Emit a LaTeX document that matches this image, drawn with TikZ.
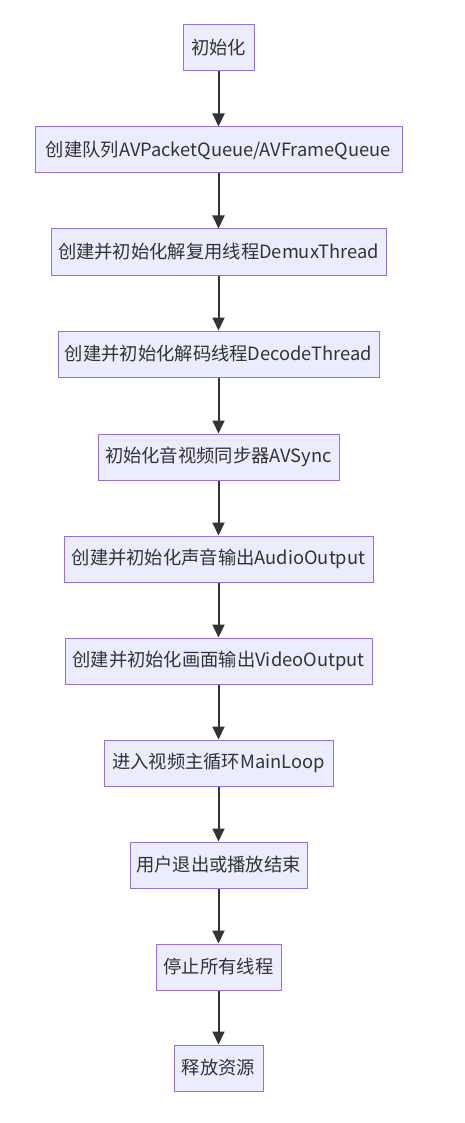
\documentclass[tikz,border=0pt]{standalone}
\usepackage{fontspec}
\setmainfont{Noto Sans CJK SC}
\usetikzlibrary{arrows.meta}
\definecolor{boxfill}{HTML}{ECECFF}
\definecolor{boxline}{HTML}{9370DB}
\definecolor{arrowc}{HTML}{333333}
\definecolor{textc}{HTML}{333333}
\begin{document}
\begin{tikzpicture}[x=1pt,y=-1pt,
  box/.style={draw=boxline,fill=boxfill,line width=1pt,minimum height=46pt,inner sep=0pt,
    text=textc,font=\fontsize{18.3}{21}\selectfont},
  flow/.style={draw=arrowc,line width=2pt,-{Triangle[length=13pt,width=12pt]}}]
\useasboundingbox (0,0) rectangle (465,1123);
\node[box,minimum width=71pt]  (n1)  at (218.5,48)   {初始化};
\node[box,minimum width=367pt] (n2)  at (218.5,150)  {创建队列AVPacketQueue/AVFrameQueue};
\node[box,minimum width=335pt] (n3)  at (218.5,252)  {创建并初始化解复用线程DemuxThread};
\node[box,minimum width=321pt] (n4)  at (218.5,354)  {创建并初始化解码线程DecodeThread};
\node[box,minimum width=241pt] (n5)  at (218.5,457)  {初始化音视频同步器AVSync};
\node[box,minimum width=309pt] (n6)  at (218.5,559)  {创建并初始化声音输出AudioOutput};
\node[box,minimum width=307pt] (n7)  at (218.5,661)  {创建并初始化画面输出VideoOutput};
\node[box,minimum width=229pt] (n8)  at (218.5,763)  {进入视频主循环MainLoop};
\node[box,minimum width=177pt] (n9)  at (218.5,865)  {用户退出或播放结束};
\node[box,minimum width=125pt] (n10) at (218.5,967)  {停止所有线程};
\node[box,minimum width=89pt]  (n11) at (218.5,1068) {释放资源};
\foreach \a/\b in {n1/n2,n2/n3,n3/n4,n4/n5,n5/n6,n6/n7,n7/n8,n8/n9,n9/n10,n10/n11}
  \draw[flow] (\a.south) -- (\b.north);
\end{tikzpicture}
\end{document}
